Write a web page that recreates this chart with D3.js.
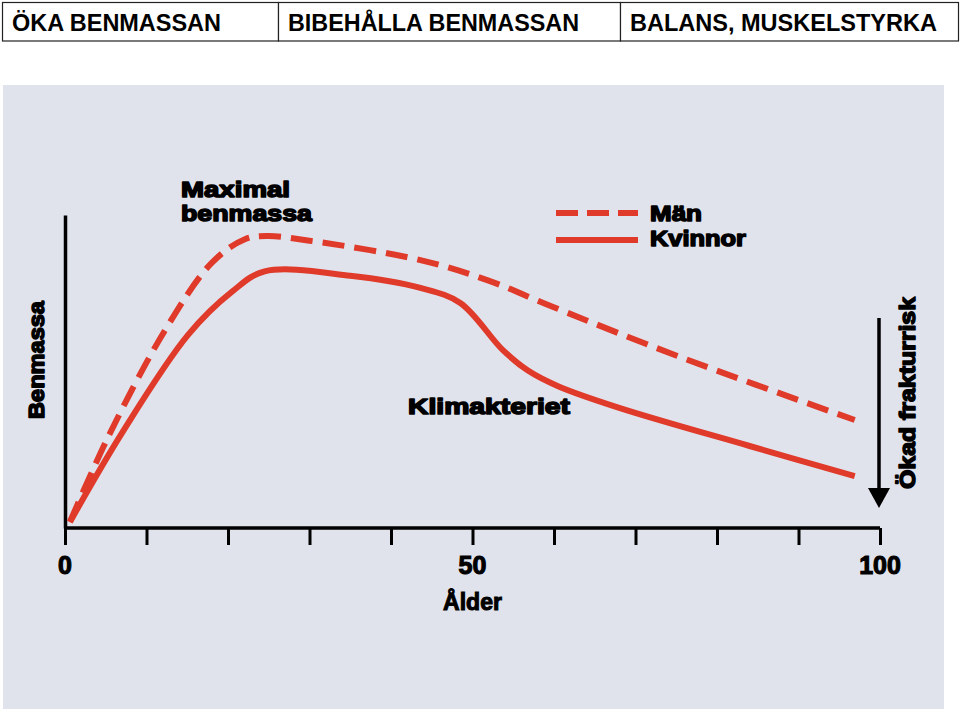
<!DOCTYPE html>
<html><head><meta charset="utf-8">
<script src="https://cdn.jsdelivr.net/npm/d3@7"></script>
<style>body{margin:0;background:#fff}svg{display:block}</style>
</head><body>
<svg id="c" width="960" height="709"></svg>
<script>
const headers = ["ÖKA BENMASSAN","BIBEHÅLLA BENMASSAN","BALANS, MUSKELSTYRKA"];
const manAge = [0.6,5.3,12.3,18.0,22.0,24.8,30.0,43.6,51.8,59.9,75.5,96.9];
const manVal = [1.9,29.1,63.3,84.7,92.2,93.3,91.8,85.6,79.2,70.6,54.6,34.5];
const kvAge = [0.6,7.0,15.1,20.5,24.5,35.0,43.6,48.5,53.7,56.8,60.5,68.1,84,96.9];
const kvVal = [1.9,30.4,61.7,75.5,82.0,80.6,76.7,71.9,56.9,50.3,45.3,38.3,26.2,16.6];
const tickVals = [0,10,20,30,40,50,60,70,80,90,100];
const labelVals = [0,50,100];
const tickLabels = ["0","50","100"];
const legend = ["Män","Kvinnor"];

const svg = d3.select("#c");
const red = "#e03a2a";
const heavy = "'Liberation Sans', Arial, sans-serif";
const narrow = "'Liberation Sans Narrow', 'Liberation Sans', Arial, sans-serif";

// header boxes
const hx = [2,278,620,958];
const hl = [209,291,307];
headers.forEach((h,i)=>{
  svg.append("rect").attr("x",hx[i]+0.5).attr("y",2.5).attr("width",hx[i+1]-hx[i]).attr("height",38.5)
    .attr("fill","#fff").attr("stroke","#222").attr("stroke-width",1.2);
  svg.append("text").attr("x",hx[i]+10).attr("y",30.5).text(h)
    .attr("font-family","Arial, 'Liberation Sans', sans-serif").attr("font-size",24.5).attr("font-weight","bold")
    .attr("fill","#000").attr("textLength",hl[i]).attr("lengthAdjust","spacingAndGlyphs");
});

// panel
svg.append("rect").attr("x",3).attr("y",85).attr("width",941).attr("height",624).attr("fill","#e1e3ec");

const x = d3.scaleLinear().domain([0,100]).range([65,880]);
const y = d3.scaleLinear().domain([0,100]).range([528,215]);

// axes
const xAxis = d3.axisBottom(x).tickValues(tickVals).tickSize(17).tickFormat("");
const gx = svg.append("g").attr("transform","translate(0,528)").call(xAxis);
gx.select(".domain").attr("stroke","#000").attr("stroke-width",3.5).attr("d","M65,0H880");
gx.selectAll(".tick line").attr("stroke","#000").attr("stroke-width",3);

const yAxis = d3.axisLeft(y).tickValues([]).tickSize(0);
const gy = svg.append("g").attr("transform","translate(65,0)").call(yAxis);
gy.select(".domain").attr("stroke","#000").attr("stroke-width",3.5);

labelVals.forEach((v,i)=>{
  svg.append("text").attr("x",x(v)).attr("y",574).attr("text-anchor","middle").text(tickLabels[i])
    .attr("font-family",narrow).attr("font-weight","bold").attr("font-size",25).attr("fill","#000")
    .attr("stroke","#000").attr("stroke-width",1.1);
});
svg.append("text").attr("x",x(50)).attr("y",610).attr("text-anchor","middle").text("Ålder")
  .attr("font-family",narrow).attr("font-weight","bold").attr("font-size",23).attr("fill","#000")
  .attr("stroke","#000").attr("stroke-width",1.0);

function heavyText(t,xx,yy,fs,opt={}){
  const e = svg.append("text").attr("x",xx).attr("y",yy).text(t)
    .attr("font-family",heavy).attr("font-weight","bold").attr("font-size",fs).attr("fill","#000")
    .attr("stroke","#000").attr("stroke-width",1.5).attr("stroke-linejoin","round");
  if(opt.len) e.attr("textLength",opt.len).attr("lengthAdjust","spacingAndGlyphs");
  if(opt.rot) e.attr("transform",`rotate(-90,${xx},${yy})`).attr("text-anchor","middle");
  return e;
}
heavyText("Maximal",181,197,22,{len:109});
heavyText("benmassa",181,221,22,{len:131});
heavyText("Klimakteriet",408,414,22,{len:162});
heavyText("Benmassa",44,360,22,{rot:true,len:118});
heavyText("Ökad frakturrisk",915,393,22,{rot:true,len:192});

// legend
svg.append("line").attr("x1",556).attr("x2",638).attr("y1",213).attr("y2",213)
  .attr("stroke",red).attr("stroke-width",6).attr("stroke-dasharray","22,9");
svg.append("line").attr("x1",556).attr("x2",638).attr("y1",240).attr("y2",240)
  .attr("stroke",red).attr("stroke-width",6);
heavyText(legend[0],650,221,22,{len:52});
heavyText(legend[1],650,246,22,{len:96});

// arrow
svg.append("line").attr("x1",879).attr("x2",879).attr("y1",318).attr("y2",492).attr("stroke","#000").attr("stroke-width",3.5);
svg.append("path").attr("d","M868,488 L890,488 L879,508 Z").attr("fill","#000");

// curves
const line = d3.line().x(d=>x(d[0])).y(d=>y(d[1])).curve(d3.curveCatmullRom.alpha(0.5));
const manData = manAge.map((a,i)=>[a,manVal[i]]);
const kvData = kvAge.map((a,i)=>[a,kvVal[i]]);
svg.append("path").attr("d",line(kvData)).attr("fill","none").attr("stroke",red).attr("stroke-width",6).attr("stroke-linecap","butt");
svg.append("path").attr("d",line(manData)).attr("fill","none").attr("stroke",red).attr("stroke-width",6)
  .attr("stroke-dasharray","22,10");
</script>
</body></html>
